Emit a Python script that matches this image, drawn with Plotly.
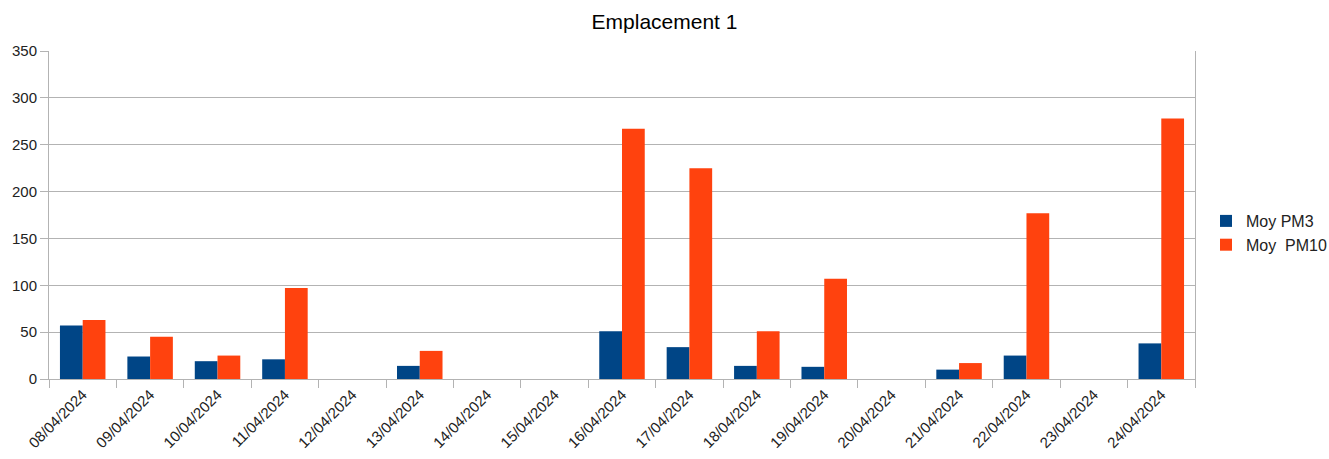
import plotly.graph_objects as go

dates = ["08/04/2024", "09/04/2024", "10/04/2024", "11/04/2024", "12/04/2024",
         "13/04/2024", "14/04/2024", "15/04/2024", "16/04/2024", "17/04/2024",
         "18/04/2024", "19/04/2024", "20/04/2024", "21/04/2024", "22/04/2024",
         "23/04/2024", "24/04/2024"]
pm3 = [57, 24, 19, 21, None, 14, None, None, 51, 34, 14, 13, None, 10, 25, None, 38]
pm10 = [63, 45, 25, 97, None, 30, None, None, 267, 225, 51, 107, None, 17, 177, None, 278]
y_ticks = [0, 50, 100, 150, 200, 250, 300, 350]

FONT = "Liberation Sans, Arial, sans-serif"
GRID = "#b3b3b3"
W, H = 1329, 459

fig = go.Figure()
fig.add_trace(go.Bar(x=dates, y=pm3, name="Moy PM3", marker_color="#004586",
                     marker_line_width=0, legendgroup="a"))
fig.add_trace(go.Bar(x=dates, y=pm10, name="Moy\u00a0\u00a0PM10", marker_color="#ff420e",
                     marker_line_width=0, legendgroup="b"))

fig.update_layout(
    width=W, height=H,
    margin=dict(l=49, r=134, t=51, b=80, autoexpand=False),
    paper_bgcolor="white", plot_bgcolor="white",
    barmode="group", bargap=0.325, bargroupgap=0,
    title=dict(text="Emplacement 1", x=0.5, xref="container", xanchor="center",
               y=1 - 22 / H, yref="container", yanchor="middle",
               font=dict(family=FONT, size=21, color="#000")),
    font=dict(family=FONT, size=15, color="#222"),
    legend=dict(x=1206 / W, xref="container", xanchor="left",
                y=1 - 233 / H, yref="container", yanchor="middle",
                font=dict(family=FONT, size=16, color="#222"),
                tracegroupgap=0, itemwidth=30, bgcolor="rgba(0,0,0,0)"),
    showlegend=True,
)
fig.update_xaxes(
    type="category", tickangle=-45, tickson="boundaries", ticks="outside",
    ticklen=8, tickcolor=GRID, showgrid=False, showline=True, linecolor=GRID,
    mirror=False, automargin=False, tickfont=dict(family=FONT, size=15, color="#222"),
)
fig.update_yaxes(
    range=[0, 350], tickvals=y_ticks, ticks="outside", ticklen=8, tickcolor=GRID,
    showgrid=True, gridcolor=GRID, gridwidth=1, showline=True, linecolor=GRID,
    mirror=True, zeroline=False, automargin=False,
    tickfont=dict(family=FONT, size=15, color="#222"),
)

fig.write_html("out.html")
